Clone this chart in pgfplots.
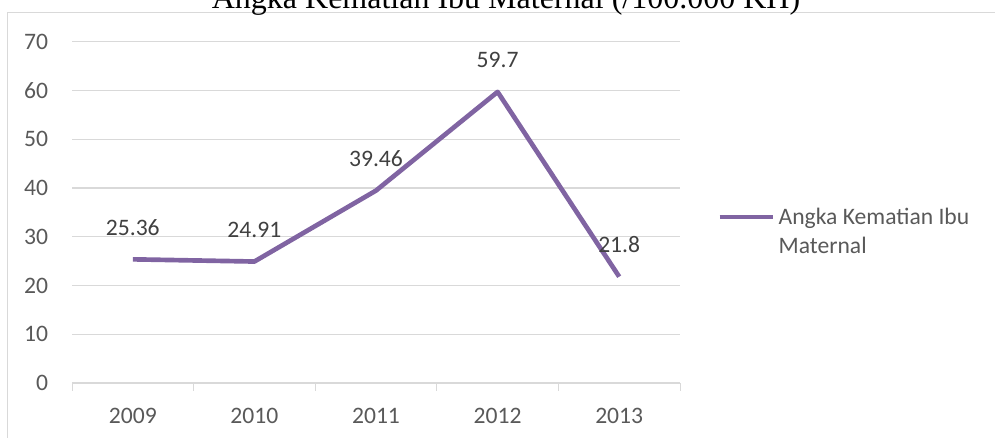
\documentclass[border=0pt]{standalone}
\usepackage{pgfplots}
\pgfplotsset{compat=1.18}
\usepackage{fontspec}
\setmainfont{Carlito}
\newfontfamily\titlefont{Liberation Serif}
\definecolor{gridc}{HTML}{D9D9D9}
\definecolor{tickc}{HTML}{595959}
\definecolor{labc}{HTML}{404040}
\definecolor{linec}{HTML}{8064A2}
\newcommand\cfont{\fontsize{17.7}{21.75}\selectfont}
\begin{document}
\begin{tikzpicture}
\useasboundingbox (0,0) rectangle (746.25pt,328.5pt);
\clip (0,0) rectangle (746.25pt,328.5pt);
\draw[gridc, line width=0.75pt] (5.25pt,319.3pt) rectangle (760pt,-10pt);
\node[font=\titlefont\fontsize{24}{28}\selectfont, anchor=base, inner sep=0pt] at (379.5pt,322.1pt) {Angka Kematian Ibu Maternal (/100.000 KH)};
\begin{axis}[
 at={(54pt,41.25pt)}, anchor=south west,
 scale only axis, width=456pt, height=256pt,
 xmin=-0.5, xmax=4.5, ymin=0, ymax=70,
 xtick={0,1,2,3,4}, xticklabels={2009,2010,2011,2012,2013},
 ytick={0,10,...,70},
 major tick length=0pt,
 extra x ticks={-0.5,0.5,1.5,2.5,3.5,4.5},
 extra x tick labels={},
 extra x tick style={major tick length=6pt, tick align=outside, tick style={gridc, line width=0.75pt}, grid=none},
 ymajorgrids, grid style={gridc, line width=1pt},
 axis x line*=bottom, axis y line*=left,
 y axis line style={draw=none},
 x axis line style={gridc, line width=1pt},
 /pgf/number format/assume math mode=true,
 ticklabel style={font=\cfont, text=tickc},
 yticklabel style={anchor=east, inner sep=0pt, xshift=-17.8pt},
 xticklabel style={anchor=base, inner sep=0pt, yshift=-30.2pt},
 nodes near coords, point meta=explicit symbolic,
 every node near coord/.append style={font=\cfont, text=labc, anchor=base, yshift=18pt, inner sep=0pt},
 legend style={draw=none, fill=none, at={(1.061,0.5195)}, anchor=north west, inner sep=0pt, font=\cfont, text=tickc,
   cells={anchor=base west, inner sep=0pt},
   /tikz/every odd column/.append style={column sep=0.75pt}},
 legend image code/.code={\draw[#1] (0pt,6pt) -- (39.75pt,6pt);},
]
\addplot[linec, line width=3.5pt, line join=round, mark=none] coordinates {
 (0,25.36) [25.36]
 (1,24.91) [24.91]
 (2,39.46) [39.46]
 (3,59.7) [59.7]
 (4,21.8) [21.8]
};
\addlegendentry{\vtop{\hbox{Angka Kematian Ibu}\hbox{Maternal}}}
\end{axis}
\end{tikzpicture}
\end{document}
